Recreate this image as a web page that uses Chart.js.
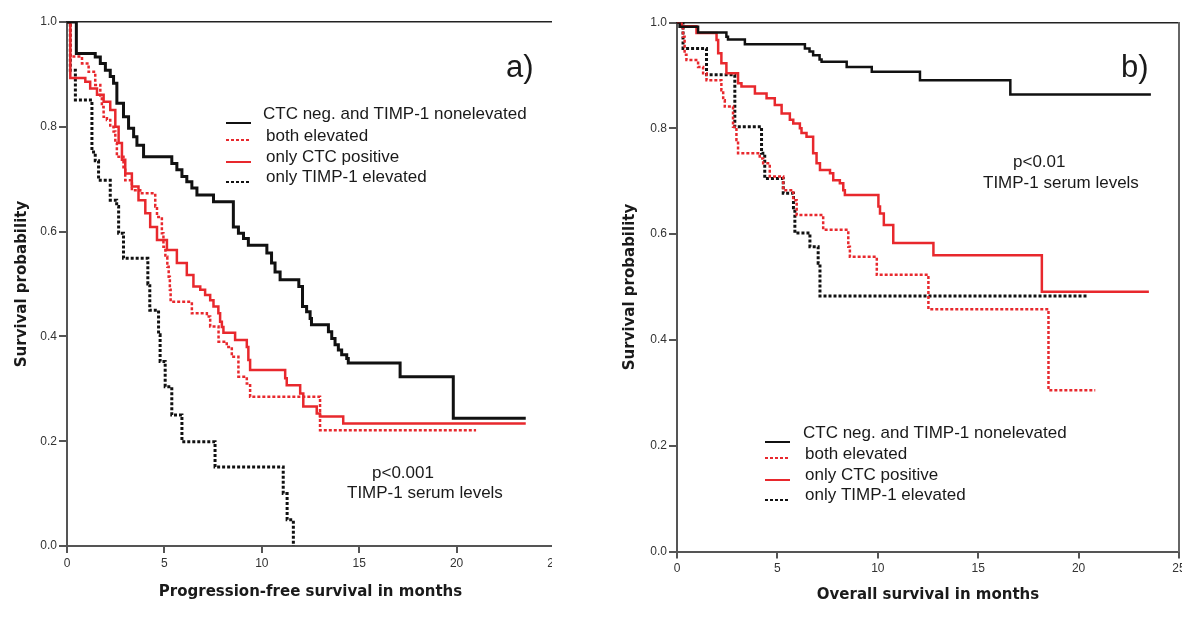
<!DOCTYPE html>
<html>
<head>
<meta charset="utf-8">
<script src="https://cdn.jsdelivr.net/npm/chart.js@4.4.1/dist/chart.umd.min.js"></script>
<style>
  html, body { margin: 0; padding: 0; background: #fff; }
  .panel { position: absolute; top: 0; height: 620px; overflow: hidden; }
  #wrapA { left: 0; width: 552px; }
  #wrapB { left: 600px; width: 582px; }
  canvas { display: block; }
</style>
</head>
<body>
<div class="panel" id="wrapA"><canvas id="chartA" width="600" height="620"></canvas></div>
<div class="panel" id="wrapB"><canvas id="chartB" width="600" height="620"></canvas></div>
<script>
// legend labels, same order in both panels
const legendLabels = [
  'CTC neg. and TIMP-1 nonelevated',
  'both elevated',
  'only CTC positive',
  'only TIMP-1 elevated'
];
const xTicks = [0, 5, 10, 15, 20, 25];
const yTicks = [0, 0.2, 0.4, 0.6, 0.8, 1.0];

// a) progression-free survival (months / survival probability)
const pfsNegTime = [0, 0.48, 1.45, 1.71, 1.97, 2.22, 2.39, 2.56, 2.9, 3.16, 3.42, 3.59, 3.93, 5.38, 5.64, 5.9, 6.15, 6.41, 6.67, 7.52, 8.54, 8.8, 9.06, 9.31, 10.26, 10.5, 10.68, 10.94, 11.9, 12.09, 12.3, 12.48, 12.55, 13.42, 13.59, 13.76, 13.93, 14.1, 14.36, 14.44, 17.1, 19.83, 23.55];
const pfsNegSurv = [1, 0.94, 0.933, 0.921, 0.908, 0.896, 0.883, 0.845, 0.819, 0.797, 0.781, 0.765, 0.743, 0.73, 0.718, 0.705, 0.695, 0.683, 0.67, 0.657, 0.609, 0.597, 0.587, 0.574, 0.559, 0.54, 0.523, 0.508, 0.495, 0.457, 0.447, 0.434, 0.422, 0.409, 0.396, 0.384, 0.374, 0.365, 0.358, 0.349, 0.323, 0.244, 0.244];

const pfsBothTime = [0, 0.17, 0.77, 1.11, 1.45, 1.71, 1.79, 1.88, 2.05, 2.22, 2.39, 2.48, 2.56, 2.9, 2.99, 3.33, 3.76, 4.53, 4.62, 4.87, 4.95, 5.05, 5.15, 5.22, 5.28, 5.32, 6.41, 7.18, 7.35, 7.78, 8.2, 8.46, 8.8, 9.23, 9.4, 12.99, 21.0];
const pfsBothSurv = [1, 0.934, 0.921, 0.905, 0.88, 0.857, 0.838, 0.819, 0.813, 0.8, 0.791, 0.769, 0.743, 0.718, 0.698, 0.679, 0.673, 0.648, 0.628, 0.597, 0.571, 0.552, 0.533, 0.514, 0.489, 0.466, 0.444, 0.438, 0.419, 0.39, 0.38, 0.361, 0.323, 0.31, 0.285, 0.221, 0.221];

const pfsCtcTime = [0, 0.17, 0.94, 1.19, 1.54, 1.88, 2.22, 2.48, 2.65, 2.82, 2.99, 3.33, 3.67, 4.02, 4.27, 4.62, 5.13, 5.64, 6.15, 6.49, 6.84, 7.09, 7.35, 7.52, 7.77, 7.86, 7.95, 8.03, 8.63, 9.23, 9.31, 9.4, 11.2, 11.28, 11.97, 12.13, 12.82, 12.99, 14.18, 23.55];
const pfsCtcSurv = [1, 0.893, 0.886, 0.873, 0.861, 0.848, 0.832, 0.8, 0.769, 0.737, 0.711, 0.686, 0.66, 0.635, 0.609, 0.584, 0.565, 0.54, 0.517, 0.495, 0.489, 0.479, 0.469, 0.457, 0.444, 0.428, 0.418, 0.407, 0.393, 0.38, 0.355, 0.336, 0.32, 0.307, 0.291, 0.266, 0.253, 0.247, 0.234, 0.234];

const pfsTimpTime = [0, 0.17, 0.43, 1.28, 1.45, 1.62, 2.22, 2.55, 2.65, 2.9, 4.15, 4.25, 4.7, 4.78, 5.04, 5.38, 5.9, 7.6, 11.1, 11.3, 11.62];
const pfsTimpSurv = [1, 0.908, 0.851, 0.752, 0.735, 0.698, 0.66, 0.648, 0.597, 0.549, 0.5, 0.45, 0.403, 0.352, 0.304, 0.25, 0.199, 0.151, 0.1, 0.05, 0.0];

// b) overall survival
const osNegTime = [0, 0.13, 1.05, 2.46, 2.54, 3.38, 6.37, 6.6, 6.78, 7.1, 7.2, 8.45, 9.7, 12.1, 16.6, 23.6];
const osNegSurv = [1, 0.992, 0.981, 0.973, 0.968, 0.959, 0.951, 0.945, 0.938, 0.93, 0.926, 0.916, 0.907, 0.891, 0.864, 0.864];

const osBothTime = [0, 0.22, 0.3, 0.38, 0.47, 1.05, 1.3, 1.47, 2.21, 2.3, 2.38, 2.79, 2.96, 3.04, 4.12, 4.29, 4.62, 5.29, 5.79, 5.96, 7.28, 8.53, 8.61, 9.95, 12.52, 18.5, 20.83];
const osBothSurv = [1, 0.992, 0.973, 0.939, 0.929, 0.916, 0.904, 0.891, 0.872, 0.853, 0.841, 0.803, 0.778, 0.753, 0.743, 0.734, 0.709, 0.683, 0.664, 0.636, 0.608, 0.576, 0.557, 0.523, 0.458, 0.305, 0.305];

const osCtcTime = [0, 0.22, 0.97, 1.97, 2.05, 2.21, 2.46, 3.04, 3.21, 3.88, 4.46, 4.87, 5.21, 5.62, 5.79, 6.12, 6.2, 6.45, 6.78, 6.95, 7.12, 7.62, 7.78, 8.11, 8.28, 8.36, 10.03, 10.11, 10.3, 10.77, 12.77, 18.17, 23.5];
const osCtcSurv = [1, 0.993, 0.98, 0.967, 0.942, 0.923, 0.904, 0.885, 0.879, 0.866, 0.857, 0.844, 0.828, 0.816, 0.809, 0.8, 0.791, 0.784, 0.753, 0.734, 0.721, 0.715, 0.702, 0.696, 0.683, 0.674, 0.652, 0.639, 0.617, 0.583, 0.56, 0.491, 0.491];

const osTimpTime = [0, 0.3, 1.47, 2.88, 4.21, 4.37, 5.29, 5.8, 5.87, 6.62, 7.03, 7.12, 20.4];
const osTimpSurv = [1, 0.951, 0.901, 0.803, 0.753, 0.705, 0.677, 0.65, 0.602, 0.576, 0.545, 0.483, 0.483];

const RED = '#e8282d';
const TEXT = '#1a1a1a';
const AXIS = '#555';

function toPoints(times, surv) {
  return times.map((t, i) => ({ x: t, y: surv[i] }));
}

// draws the in-plot legend and the text notes
const notesPlugin = {
  id: 'notes',
  afterDatasetsDraw(chart, args, opts) {
    const ctx = chart.ctx;
    ctx.save();
    ctx.textBaseline = 'middle';
    ctx.fillStyle = TEXT;
    opts.texts.forEach(t => {
      ctx.font = t.size + 'px "Liberation Sans", Arial, sans-serif';
      ctx.fillText(t.text, t.x, t.y);
    });
    const lg = opts.legend;
    chart.data.datasets.forEach((ds, i) => {
      ctx.strokeStyle = ds.borderColor;
      ctx.lineWidth = 2;
      ctx.setLineDash(ds.borderDash || []);
      ctx.beginPath();
      ctx.moveTo(lg.x0, lg.lineY[i]);
      ctx.lineTo(lg.x1, lg.lineY[i]);
      ctx.stroke();
      ctx.setLineDash([]);
      ctx.font = '17px "Liberation Sans", Arial, sans-serif';
      ctx.fillText(legendLabels[i], lg.textX[i], lg.textY[i]);
    });
    ctx.restore();
  }
};

function buildChart(id, series, cfg) {
  const styles = [
    { color: '#111', dash: [], width: cfg.blackWidth },
    { color: RED, dash: [3, 2], width: 2.5 },
    { color: RED, dash: [], width: 2.5 },
    { color: '#111', dash: [3, 2], width: 3 }
  ];
  const tickFont = { family: '"Liberation Sans", Arial, sans-serif', size: 12 };
  const titleFont = { family: '"DejaVu Sans", Verdana, sans-serif', size: 15, weight: 'bold' };

  return new Chart(document.getElementById(id), {
    type: 'line',
    data: {
      datasets: series.map((s, i) => ({
        label: legendLabels[i],
        data: toPoints(s[0], s[1]),
        stepped: 'before',
        borderColor: styles[i].color,
        borderWidth: styles[i].width,
        borderDash: styles[i].dash,
        borderCapStyle: 'butt',
        pointRadius: 0,
        fill: false
      }))
    },
    options: {
      responsive: false,
      animation: false,
      events: [],
      layout: { padding: { left: 0, top: cfg.top, right: cfg.right, bottom: 0 } },
      plugins: {
        legend: { display: false },
        tooltip: { enabled: false },
        notes: cfg.notes
      },
      scales: {
        x: {
          type: 'linear', min: 0, max: 25,
          afterBuildTicks: s => { s.ticks = xTicks.map(v => ({ value: v })); },
          ticks: { font: tickFont, color: '#333', padding: 3, maxRotation: 0 },
          grid: { drawOnChartArea: false, tickLength: 7, color: AXIS, lineWidth: 2 },
          border: { color: AXIS, width: 2 },
          title: { display: true, text: cfg.xTitle, font: titleFont, color: TEXT, padding: { top: 0, bottom: cfg.xTitlePad } },
          afterFit: s => { s.height = cfg.xHeight; }
        },
        y: {
          type: 'linear', min: 0, max: 1,
          afterBuildTicks: s => { s.ticks = yTicks.map(v => ({ value: v })); },
          ticks: { font: tickFont, color: '#333', padding: 2, callback: v => v.toFixed(1) },
          grid: { drawOnChartArea: false, tickLength: 8, color: AXIS, lineWidth: 2 },
          border: { color: AXIS, width: 2 },
          title: { display: true, text: 'Survival probability', font: titleFont, color: TEXT, padding: { top: cfg.yTitlePad, bottom: 0 } },
          afterFit: s => { s.width = cfg.yWidth; }
        },
        x2: {
          type: 'linear', position: 'top', min: 0, max: 25,
          ticks: { display: false },
          grid: { display: false },
          border: { display: true, color: '#222', width: 1.5 },
          afterFit: s => { s.height = 0; }
        },
        y2: {
          type: 'linear', position: 'right', min: 0, max: 1,
          display: cfg.rightBorder,
          ticks: { display: false },
          grid: { display: false },
          border: { display: true, color: '#666', width: 2 },
          afterFit: s => { s.width = 0; }
        }
      }
    },
    plugins: [notesPlugin]
  });
}

buildChart('chartA', [
  [pfsNegTime, pfsNegSurv],
  [pfsBothTime, pfsBothSurv],
  [pfsCtcTime, pfsCtcSurv],
  [pfsTimpTime, pfsTimpSurv]
], {
  top: 22, right: 46, xHeight: 74, yWidth: 67,
  xTitle: 'Progression-free survival in months', xTitlePad: 19, yTitlePad: 13,
  blackWidth: 3, rightBorder: false,
  notes: {
    texts: [
      { text: 'a)', x: 506, y: 68, size: 31 },
      { text: 'p<0.001', x: 372, y: 473, size: 17 },
      { text: 'TIMP-1 serum levels', x: 347, y: 493, size: 17 }
    ],
    legend: { x0: 226, x1: 251, lineY: [123, 140, 162, 182], textX: [263, 266, 266, 266], textY: [114, 136, 157, 177] }
  }
});

buildChart('chartB', [
  [osNegTime, osNegSurv],
  [osBothTime, osBothSurv],
  [osCtcTime, osCtcSurv],
  [osTimpTime, osTimpSurv]
], {
  top: 22.5, right: 21, xHeight: 68.5, yWidth: 77,
  xTitle: 'Overall survival in months', xTitlePad: 16, yTitlePad: 21,
  blackWidth: 2.5, rightBorder: true,
  notes: {
    texts: [
      { text: 'b)', x: 521, y: 68, size: 31 },
      { text: 'p<0.01', x: 413, y: 162, size: 17 },
      { text: 'TIMP-1 serum levels', x: 383, y: 183, size: 17 }
    ],
    legend: { x0: 165, x1: 190, lineY: [442, 458, 480, 500], textX: [203, 205, 205, 205], textY: [433, 454, 475, 495] }
  }
});
</script>
</body>
</html>
